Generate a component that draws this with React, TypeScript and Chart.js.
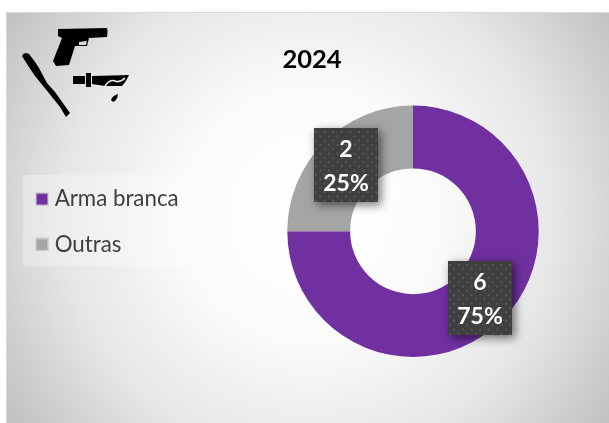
import React, { useEffect, useRef } from "react";
import { Chart, registerables } from "chart.js";

Chart.register(...registerables);

const categories = ["Arma branca", "Outras"];
const values = [6, 2];
const percents = ["75%", "25%"];
const colors = ["#7030A0", "#A5A5A5"];
const chartTitle = "2024";

const FONT = "Lato, Carlito, sans-serif";

function makeSwatch(color: string) {
  const c = document.createElement("canvas");
  c.width = 14;
  c.height = 14;
  const x = c.getContext("2d") as CanvasRenderingContext2D;
  x.fillStyle = "#d6d6d6";
  x.fillRect(0, 0, 14, 14);
  x.fillStyle = color;
  x.fillRect(1.5, 1.5, 11, 11);
  return c;
}

function labelBox(ctx: CanvasRenderingContext2D, x: number, y: number, w: number, h: number) {
  ctx.save();
  ctx.shadowColor = "rgba(0,0,0,0.55)";
  ctx.shadowBlur = 9;
  ctx.shadowOffsetX = 3;
  ctx.shadowOffsetY = 3;
  ctx.fillStyle = "#3f3f3f";
  ctx.fillRect(x, y, w, h);
  ctx.restore();
  ctx.save();
  ctx.beginPath();
  ctx.rect(x, y, w, h);
  ctx.clip();
  ctx.fillStyle = "rgba(255,255,255,0.13)";
  let row = 0;
  for (let py = y + 3; py < y + h; py += 4.3) {
    const off = row % 2 === 0 ? 0 : 4.3;
    for (let px = x + 1 + off; px < x + w; px += 8.6) {
      ctx.fillRect(px, py, 2, 2);
    }
    row++;
  }
  ctx.restore();
}

const framePlugin = {
  id: "frame",
  afterLayout(chart: any) {
    const l = chart.legend;
    if (l) {
      const w = l.width;
      const h = l.height;
      l.left = 40.5 - 23; l.right = l.left + w; l.top = 165; l.bottom = 165 + h;
    }
    const t = chart.titleBlock;
    if (t) {
      const h = t.height;
      const w = t.width;
      t.left = 312 - w / 2; t.right = t.left + w; t.top = 44; t.bottom = 44 + h;
    }
  },
  beforeDraw(chart: any) {
    const { ctx } = chart;
    ctx.save();
    ctx.fillStyle = "#ffffff";
    ctx.fillRect(0, 0, 609, 423);
    const g = ctx.createRadialGradient(310, 215, 20, 310, 215, 370);
    g.addColorStop(0, "#ffffff");
    g.addColorStop(0.3, "#fbfbfb");
    g.addColorStop(0.65, "#e6e6e6");
    g.addColorStop(1, "#bfbfbf");
    ctx.fillStyle = g;
    ctx.fillRect(6, 12, 603, 411);
    ctx.strokeStyle = "#d9d9d9";
    ctx.lineWidth = 1;
    ctx.beginPath();
    ctx.moveTo(6.5, 423);
    ctx.lineTo(6.5, 12.5);
    ctx.lineTo(609, 12.5);
    ctx.stroke();
    ctx.fillStyle = "rgba(255,255,255,0.3)";
    ctx.fillRect(23, 175, 167, 91);
    ctx.restore();
  },
  afterDraw(chart: any) {
    const { ctx } = chart;
    const meta = chart.getDatasetMeta(0);
    meta.data.forEach((arc: any, i: number) => {
      const c = arc.getCenterPoint();
      const w = 64;
      const h = 74;
      const x = Math.round(c.x - w / 2);
      const y = Math.round(c.y - h / 2);
      labelBox(ctx, x, y, w, h);
      ctx.save();
      ctx.fillStyle = "#ffffff";
      ctx.font = "bold 23px " + FONT;
      ctx.textAlign = "center";
      ctx.textBaseline = "middle";
      ctx.fillText(String(values[i]), x + w / 2, y + 22);
      ctx.fillText(percents[i], x + w / 2, y + 56);
      ctx.restore();
    });
  },
};

function Icons() {
  return (
    <svg
      width={140}
      height={130}
      viewBox="0 0 140 130"
      style={{ position: "absolute", left: 0, top: 0, pointerEvents: "none" }}
    >
      <g fill="#000">
        <path
          fillRule="evenodd"
          d="M58 29 L107 28 Q108 31 107 37 L89 38 L87 46 L75 46 L69 65 L56 66 L53 61 L62 38 L58 36 Z M79 42 L87 41 L86 45 L79 45 Z"
        />
        <path d="M22 56 Q24 51 29 54 Q34 60 39 68 L47 83 L55 92 L70 113 L66 117 L60 107 L48 92 L35 76 Q28 66 22 56 Z" />
        <path d="M73 76 L85 76 L85 84 L73 84 Z" />
        <path d="M86 73 L91 73 L91 87 L86 87 Z" />
        <path d="M92 76 L129 75 Q126 82 122 86 L105 86 L92 84 Z" />
        <path d="M118 94 Q112 96 111 100 Q113 103 115 101 Q118 98 118 94 Z" />
      </g>
      <path d="M105 86 Q110 79 115 81 Q120 83 125 78" fill="none" stroke="#eeeeee" strokeWidth={1.6} />
    </svg>
  );
}

export default function App() {
  const ref = useRef<HTMLCanvasElement | null>(null);
  useEffect(() => {
    const swatches = colors.map(makeSwatch);
    const chart = new Chart(ref.current as HTMLCanvasElement, {
      type: "doughnut",
      data: {
        labels: categories,
        datasets: [
          {
            data: values,
            backgroundColor: colors,
            borderWidth: 0,
            cutout: "50%",
          } as any,
        ],
      },
      options: {
        responsive: false,
        animation: false,
        layout: { padding: { left: 287, right: 70, top: 75, bottom: 66 } },
        plugins: {
          tooltip: { enabled: false },
          title: {
            display: true,
            text: chartTitle,
            color: "#000000",
            font: { family: FONT, size: 25.5, weight: "bold" },
            padding: 0,
          },
          legend: {
            position: "chartArea" as any,
            align: "start",
            labels: {
              usePointStyle: true,
              pointStyleWidth: 3,
              boxHeight: 11,
              padding: 23,
              color: "#404040",
              font: { family: FONT, size: 22.3 },
              generateLabels: () =>
                categories.map((text, i) => ({
                  text,
                  fillStyle: colors[i],
                  strokeStyle: colors[i],
                  fontColor: "#404040",
                  lineWidth: 0,
                  pointStyle: swatches[i],
                  hidden: false,
                  index: i,
                })),
            },
          },
        },
      },
      plugins: [framePlugin],
    });
    return () => chart.destroy();
  }, []);
  return (
    <div style={{ position: "fixed", left: 0, top: 0, width: 609, height: 423, overflow: "hidden" }}>
      <canvas ref={ref} width={609} height={423} style={{ display: "block" }} />
      <Icons />
    </div>
  );
}
